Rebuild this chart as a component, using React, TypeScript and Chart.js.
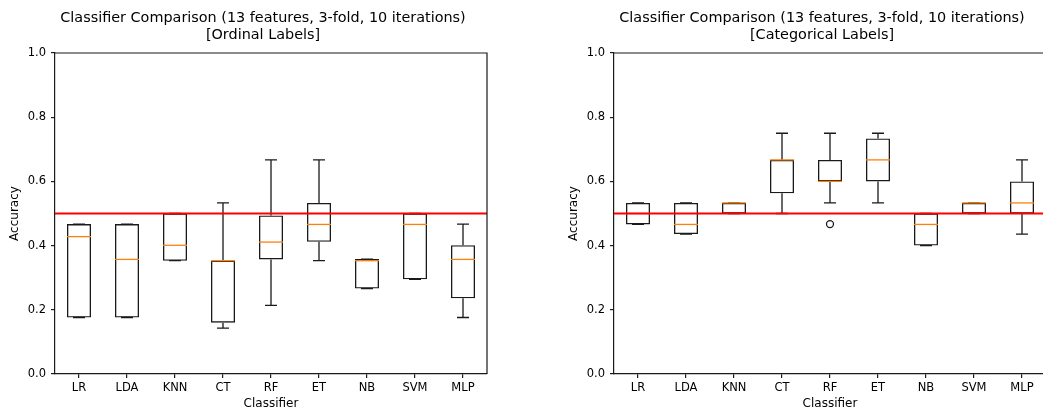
import React, { useEffect, useRef } from "react";
import { Chart, registerables } from "chart.js";

Chart.register(...registerables);

const categories = ["LR", "LDA", "KNN", "CT", "RF", "ET", "NB", "SVM", "MLP"];
const yTicks = [0, 0.2, 0.4, 0.6, 0.8, 1.0];
const chanceLevel = 0.5;
const mainTitle = "Classifier Comparison (13 features, 3-fold, 10 iterations)";

// Ordinal labels
const ordMin = [0.176, 0.176, 0.353, 0.143, 0.214, 0.353, 0.266, 0.295, 0.176];
const ordQ1 = [0.176, 0.176, 0.353, 0.16, 0.357, 0.412, 0.266, 0.295, 0.236];
const ordMedian = [0.428, 0.357, 0.401, 0.353, 0.411, 0.466, 0.353, 0.466, 0.357];
const ordQ3 = [0.467, 0.467, 0.5, 0.353, 0.494, 0.533, 0.358, 0.5, 0.401];
const ordMax = [0.467, 0.467, 0.5, 0.533, 0.667, 0.667, 0.358, 0.5, 0.467];
const ordOutliers: number[][] = [[], [], [], [], [], [], [], [], []];

// Categorical labels
const catMin = [0.466, 0.436, 0.5, 0.5, 0.533, 0.533, 0.4, 0.5, 0.436];
const catQ1 = [0.466, 0.436, 0.5, 0.563, 0.6, 0.6, 0.4, 0.5, 0.5];
const catMedian = [0.5, 0.466, 0.533, 0.667, 0.6, 0.667, 0.466, 0.533, 0.533];
const catQ3 = [0.533, 0.533, 0.533, 0.667, 0.667, 0.734, 0.5, 0.533, 0.6];
const catMax = [0.533, 0.533, 0.533, 0.75, 0.75, 0.75, 0.5, 0.533, 0.667];
const catOutliers: number[][] = [[], [], [], [], [0.467], [], [], [], []];

const FONT = "'DejaVu Sans', sans-serif";
const INK = "#1a1a1a";

type BoxData = {
  min: number[];
  q1: number[];
  median: number[];
  q3: number[];
  max: number[];
  outliers: number[][];
};

const boxPlugin = {
  id: "boxExtras",
  afterDatasetsDraw(chart: any) {
    const opts = chart.options.plugins.boxExtras as { data: BoxData; title: string[] };
    if (!opts || !opts.data) return;
    const d = opts.data;
    const xs = chart.scales.x;
    const ys = chart.scales.y;
    const ctx = chart.ctx;
    const a = chart.chartArea;
    ctx.save();
    const unit = xs.getPixelForValue(2) - xs.getPixelForValue(1);
    const capHalf = unit * 0.125;
    const boxHalf = unit * 0.25;
    categories.forEach((_, i) => {
      const xc = xs.getPixelForValue(i + 1);
      const yMin = ys.getPixelForValue(d.min[i]);
      const yQ1 = ys.getPixelForValue(d.q1[i]);
      const yQ3 = ys.getPixelForValue(d.q3[i]);
      const yMax = ys.getPixelForValue(d.max[i]);
      const yMed = ys.getPixelForValue(d.median[i]);
      ctx.strokeStyle = INK;
      ctx.lineWidth = 1.3;
      ctx.beginPath();
      if (d.max[i] > d.q3[i]) {
        ctx.moveTo(xc, yQ3);
        ctx.lineTo(xc, yMax);
      }
      if (d.min[i] < d.q1[i]) {
        ctx.moveTo(xc, yQ1);
        ctx.lineTo(xc, yMin);
      }
      ctx.moveTo(xc - capHalf, yMax);
      ctx.lineTo(xc + capHalf, yMax);
      ctx.moveTo(xc - capHalf, yMin);
      ctx.lineTo(xc + capHalf, yMin);
      ctx.stroke();
      // median
      ctx.strokeStyle = "#ff7f0e";
      ctx.lineWidth = 1.3;
      ctx.beginPath();
      ctx.moveTo(xc - boxHalf, yMed);
      ctx.lineTo(xc + boxHalf, yMed);
      ctx.stroke();
      // outliers
      ctx.strokeStyle = INK;
      ctx.lineWidth = 1.3;
      d.outliers[i].forEach((v) => {
        ctx.beginPath();
        ctx.arc(xc, ys.getPixelForValue(v), 3.5, 0, Math.PI * 2);
        ctx.stroke();
      });
    });
    // chance line
    ctx.strokeStyle = "#ff0000";
    ctx.lineWidth = 2;
    const yc = ys.getPixelForValue(chanceLevel);
    ctx.beginPath();
    ctx.moveTo(a.left, yc);
    ctx.lineTo(a.right, yc);
    ctx.stroke();
    // spines (top and right)
    ctx.strokeStyle = INK;
    ctx.lineWidth = 1.2;
    ctx.beginPath();
    ctx.moveTo(a.left, a.top);
    ctx.lineTo(a.right, a.top);
    ctx.lineTo(a.right, a.bottom);
    ctx.stroke();
    // title
    ctx.fillStyle = "#000";
    ctx.font = `14.4px ${FONT}`;
    ctx.textAlign = "center";
    ctx.textBaseline = "middle";
    const cx = (a.left + a.right) / 2 - 8;
    opts.title.forEach((line, k) => {
      ctx.fillText(line, cx, 18 + k * 17.2);
    });
    ctx.restore();
  },
};

function BoxChart({ title, data }: { title: string; data: BoxData }) {
  const ref = useRef<HTMLCanvasElement>(null);
  useEffect(() => {
    if (!ref.current) return;
    const chart = new Chart(ref.current, {
      type: "bar",
      data: {
        datasets: [
          {
            data: categories.map((_, i) => ({ x: i + 1, y: [data.q1[i], data.q3[i]] })) as any,
            backgroundColor: "rgba(0,0,0,0)",
            borderColor: INK,
            borderWidth: 1.3,
            borderSkipped: false,
            barPercentage: 0.5,
            categoryPercentage: 1,
          },
        ],
      },
      options: {
        responsive: false,
        animation: false,
        layout: { padding: { left: 0, right: 34, top: 53, bottom: 0 } },
        plugins: {
          legend: { display: false },
          tooltip: { enabled: false },
          title: { display: false },
          boxExtras: { data, title: [mainTitle, title] },
        } as any,
        scales: {
          x: {
            type: "linear",
            offset: false,
            min: 0.5,
            max: 9.5,
            afterBuildTicks: (scale: any) => {
              scale.ticks = categories.map((_, i) => ({ value: i + 1 }));
            },
            afterFit: (scale: any) => {
              scale.height = 38;
            },
            ticks: {
              autoSkip: false,
              maxRotation: 0,
              padding: 3,
              color: "#000",
              font: { family: FONT, size: 11.5 },
              callback: (v: any) => categories[Math.round(Number(v)) - 1] ?? "",
            },
            grid: { display: true, offset: false, drawOnChartArea: false, drawTicks: true, tickLength: 4, color: INK, lineWidth: 1.2 },
            border: { display: true, color: INK, width: 1.2 },
            title: {
              display: true,
              text: "Classifier",
              color: "#000",
              font: { family: FONT, size: 12 },
              padding: { top: 0, bottom: 1 },
            },
          },
          y: {
            type: "linear",
            min: 0,
            max: 1,
            afterBuildTicks: (scale: any) => {
              scale.ticks = yTicks.map((v) => ({ value: v }));
            },
            afterFit: (scale: any) => {
              scale.width = 55;
            },
            ticks: {
              padding: 5,
              color: "#000",
              font: { family: FONT, size: 11.5 },
              callback: (v: any) => Number(v).toFixed(1),
            },
            grid: { display: true, drawOnChartArea: false, drawTicks: true, tickLength: 4, color: INK, lineWidth: 1.2 },
            border: { display: true, color: INK, width: 1.2 },
            title: {
              display: true,
              text: "Accuracy",
              color: "#000",
              font: { family: FONT, size: 12 },
              padding: { top: 8, bottom: 0 },
            },
          },
        },
      } as any,
      plugins: [boxPlugin],
    });
    return () => chart.destroy();
  }, [title, data]);
  return <canvas ref={ref} width={521} height={412} style={{ display: "block" }} />;
}

const ordData: BoxData = { min: ordMin, q1: ordQ1, median: ordMedian, q3: ordQ3, max: ordMax, outliers: ordOutliers };
const catData: BoxData = { min: catMin, q1: catQ1, median: catMedian, q3: catQ3, max: catMax, outliers: catOutliers };

export default function App() {
  return (
    <div style={{ position: "absolute", left: 0, top: 0, width: 1043, height: 412, overflow: "hidden", background: "#fff" }}>
      <div style={{ position: "absolute", left: 0, top: 0 }}>
        <BoxChart title="[Ordinal Labels]" data={ordData} />
      </div>
      <div style={{ position: "absolute", left: 559, top: 0 }}>
        <BoxChart title="[Categorical Labels]" data={catData} />
      </div>
    </div>
  );
}
